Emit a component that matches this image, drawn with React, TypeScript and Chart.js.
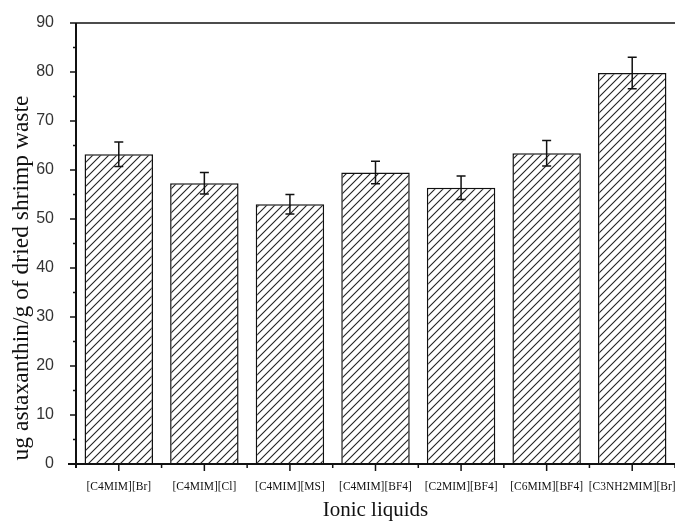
import React, { useEffect, useRef } from "react";
import { Chart, registerables } from "chart.js";

Chart.register(...registerables);

const categories = [
  "[C4MIM][Br]",
  "[C4MIM][Cl]",
  "[C4MIM][MS]",
  "[C4MIM][BF4]",
  "[C2MIM][BF4]",
  "[C6MIM][BF4]",
  "[C3NH2MIM][Br]",
];
const values = [63.2, 57.3, 53.0, 59.5, 56.4, 63.4, 79.8];
const errors = [2.5, 2.2, 2.0, 2.3, 2.4, 2.6, 3.2];
const yTicks = [0, 10, 20, 30, 40, 50, 60, 70, 80, 90];
const yTitle = "ug astaxanthin/g of dried shrimp waste";
const xTitle = "Ionic liquids";

function makeHatch(): CanvasPattern | string {
  const s = 8;
  const c = document.createElement("canvas");
  c.width = s;
  c.height = s;
  const g = c.getContext("2d");
  if (!g) return "#fff";
  g.fillStyle = "#fff";
  g.fillRect(0, 0, s, s);
  g.strokeStyle = "#222";
  g.lineWidth = 1.1;
  g.beginPath();
  g.moveTo(-1, s + 1);
  g.lineTo(s + 1, -1);
  g.moveTo(-1, 1);
  g.lineTo(1, -1);
  g.moveTo(s - 1, s + 1);
  g.lineTo(s + 1, s - 1);
  g.stroke();
  const p = g.createPattern(c, "repeat");
  return p || "#fff";
}

const decorPlugin = {
  id: "decor",
  afterDatasetsDraw(chart: any) {
    const ctx = chart.ctx;
    const area = chart.chartArea;
    const x = chart.scales.x;
    const y = chart.scales.y;
    ctx.save();
    ctx.strokeStyle = "#111";
    // error bars
    ctx.lineWidth = 1.5;
    values.forEach((v, i) => {
      const cx = x.getPixelForValue(i);
      const yt = y.getPixelForValue(v + errors[i]);
      const yb = y.getPixelForValue(v - errors[i]);
      ctx.beginPath();
      ctx.moveTo(cx, yt);
      ctx.lineTo(cx, yb);
      ctx.moveTo(cx - 4.5, yt);
      ctx.lineTo(cx + 4.5, yt);
      ctx.moveTo(cx - 4.5, yb);
      ctx.lineTo(cx + 4.5, yb);
      ctx.stroke();
    });
    // axes
    ctx.lineWidth = 2;
    ctx.beginPath();
    ctx.moveTo(area.left, area.top);
    ctx.lineTo(area.left, area.bottom + 4);
    ctx.moveTo(area.left - 8, area.bottom);
    ctx.lineTo(area.right, area.bottom);
    ctx.stroke();
    ctx.lineWidth = 1.5;
    ctx.beginPath();
    ctx.moveTo(area.left, area.top);
    ctx.lineTo(area.right, area.top);
    ctx.stroke();
    // y ticks (major + minor)
    for (let v = 0; v <= 90; v += 5) {
      const py = y.getPixelForValue(v);
      const len = v % 10 === 0 ? 6 : 3;
      ctx.beginPath();
      ctx.moveTo(area.left - len, py);
      ctx.lineTo(area.left, py);
      ctx.stroke();
    }
    // x ticks: major at centers, minor at boundaries
    const step = x.getPixelForValue(1) - x.getPixelForValue(0);
    categories.forEach((_, i) => {
      const cx = x.getPixelForValue(i);
      ctx.beginPath();
      ctx.moveTo(cx, area.bottom);
      ctx.lineTo(cx, area.bottom + 7);
      ctx.stroke();
      const bx = cx + step / 2;
      ctx.beginPath();
      ctx.moveTo(bx, area.bottom);
      ctx.lineTo(bx, area.bottom + 4);
      ctx.stroke();
    });
    // y axis title
    ctx.fillStyle = "#111";
    ctx.font = "23.5px 'Liberation Serif'";
    ctx.textAlign = "center";
    ctx.textBaseline = "middle";
    ctx.translate(22, 278);
    ctx.rotate(-Math.PI / 2);
    ctx.fillText(yTitle, 0, 0);
    ctx.restore();
  },
};

export default function App() {
  const ref = useRef<HTMLCanvasElement | null>(null);
  useEffect(() => {
    if (!ref.current) return;
    const hatch = makeHatch();
    const chart = new Chart(ref.current, {
      type: "bar",
      data: {
        labels: categories,
        datasets: [
          {
            data: values,
            backgroundColor: hatch as any,
            borderColor: "#111",
            borderWidth: 1.5,
            categoryPercentage: 1,
            barPercentage: 0.8,
          },
        ],
      },
      options: {
        animation: false,
        responsive: false,
        maintainAspectRatio: false,
        layout: { padding: { top: 23, right: 0, left: 0, bottom: 0 } },
        plugins: {
          legend: { display: false },
          tooltip: { enabled: false },
        },
        scales: {
          x: {
            offset: true,
            grid: { display: false },
            border: { display: false },
            ticks: {
              autoSkip: false,
              maxRotation: 0,
              minRotation: 0,
              padding: 8,
              color: "#111",
              font: { family: "Liberation Serif", size: 11.5 },
            },
            title: {
              display: true,
              text: xTitle,
              color: "#111",
              font: { family: "Liberation Serif", size: 21 },
              padding: { top: 4, bottom: 0 },
            },
            afterFit(scale: any) {
              scale.height = 59;
              scale.paddingLeft = 0;
              scale.paddingRight = 0;
            },
          },
          y: {
            min: 0,
            max: 90,
            grid: { display: false },
            border: { display: false },
            afterBuildTicks(scale: any) {
              scale.ticks = yTicks.map((v) => ({ value: v }));
            },
            ticks: {
              padding: 14,
              color: "#333",
              font: { family: "Liberation Sans", size: 16 },
            },
            afterFit(scale: any) {
              scale.width = 76;
              scale.paddingTop = 0;
              scale.paddingBottom = 0;
            },
          },
        },
      },
      plugins: [decorPlugin],
    });
    return () => chart.destroy();
  }, []);
  return (
    <div style={{ position: "fixed", left: 0, top: 0, width: 675, height: 523, background: "#fff" }}>
      <canvas ref={ref} width={675} height={523} style={{ display: "block", width: 675, height: 523 }} />
    </div>
  );
}
